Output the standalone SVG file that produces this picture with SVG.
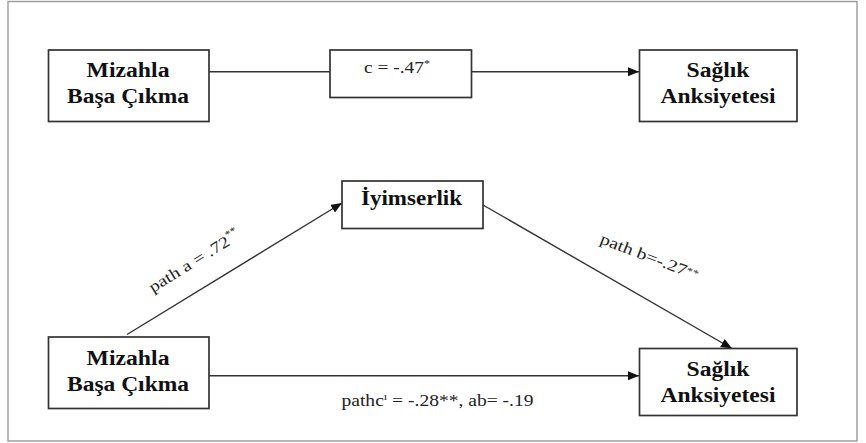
<svg xmlns="http://www.w3.org/2000/svg" width="866" height="443" viewBox="0 0 866 443">
  <style>
    .frame { fill: none; stroke: #9a9a9a; stroke-width: 1.4; }
    .box { fill: #ffffff; stroke: #333333; stroke-width: 1.7; }
    .node { font-family: "Liberation Serif", "Times New Roman", serif; font-weight: bold; font-size: 20px; fill: #111111; text-anchor: middle; }
    .lbl { font-family: "Liberation Serif", "Times New Roman", serif; font-size: 16px; fill: #222222; text-anchor: middle; }
    .edge { fill: none; stroke: #333333; stroke-width: 1.4; }
  </style>
  <defs>
    <marker id="arrow" markerUnits="userSpaceOnUse" markerWidth="12" markerHeight="10" refX="11" refY="4.5" orient="auto">
      <path d="M0,0 L11,4.5 L0,9 z" fill="#111111"/>
    </marker>
  </defs>

  <rect x="0" y="0" width="866" height="443" fill="#ffffff"/>
  <rect class="frame" x="8" y="1.5" width="849" height="439.5"/>

  <!-- connectors -->
  <g id="connectors">
    <line class="edge" x1="209" y1="71.7" x2="330" y2="71.7"/>
    <line class="edge" x1="471.5" y1="71.7" x2="639" y2="71.7" marker-end="url(#arrow)"/>
    <line class="edge" x1="127" y1="334.5" x2="342" y2="203" marker-end="url(#arrow)"/>
    <line class="edge" x1="483" y1="205" x2="732" y2="348.5" marker-end="url(#arrow)"/>
    <line class="edge" x1="209" y1="375.7" x2="639" y2="375.7" marker-end="url(#arrow)"/>

    <text class="lbl" transform="translate(195,262) rotate(-32)" x="0" y="4" textLength="104" lengthAdjust="spacingAndGlyphs">path a = .72<tspan font-size="10" dy="-7">**</tspan></text>
    <text class="lbl" transform="translate(649,258) rotate(21)" x="0" y="4" textLength="104" lengthAdjust="spacingAndGlyphs">path b=-.27<tspan font-size="10" dy="-3">**</tspan></text>
    <text class="lbl" x="437.5" y="405.5" textLength="192" lengthAdjust="spacingAndGlyphs">pathc<tspan font-size="10" dy="-6">ı</tspan><tspan dy="6"> = -.28**, ab= -.19</tspan></text>
  </g>

  <g id="node-mizahla-top">
    <rect class="box" x="48.5" y="50" width="160.5" height="71.5"/>
    <text class="node" x="128" y="76.5" textLength="83" lengthAdjust="spacingAndGlyphs">Mizahla</text>
    <text class="node" x="128" y="103" textLength="122" lengthAdjust="spacingAndGlyphs">Başa Çıkma</text>
  </g>

  <g id="node-c">
    <rect class="box" x="330" y="50" width="141.5" height="47.5"/>
    <text class="lbl" x="397" y="72.5" textLength="66" lengthAdjust="spacingAndGlyphs">c = -.47<tspan font-size="10" dy="-6">*</tspan></text>
  </g>

  <g id="node-saglik-top">
    <rect class="box" x="639.5" y="50" width="157.5" height="71.5"/>
    <text class="node" x="718" y="76.5" textLength="63" lengthAdjust="spacingAndGlyphs">Sağlık</text>
    <text class="node" x="718" y="103" textLength="115" lengthAdjust="spacingAndGlyphs">Anksiyetesi</text>
  </g>

  <g id="node-iyimserlik">
    <rect class="box" x="342" y="181" width="141" height="47.5"/>
    <text class="node" x="411.5" y="204.5" textLength="101" lengthAdjust="spacingAndGlyphs">İyimserlik</text>
  </g>

  <g id="node-mizahla-bottom">
    <rect class="box" x="48.5" y="337" width="160.5" height="71.5"/>
    <text class="node" x="128" y="365" textLength="83" lengthAdjust="spacingAndGlyphs">Mizahla</text>
    <text class="node" x="128" y="391" textLength="122" lengthAdjust="spacingAndGlyphs">Başa Çıkma</text>
  </g>

  <g id="node-saglik-bottom">
    <rect class="box" x="639.5" y="348.5" width="157.5" height="67"/>
    <text class="node" x="718" y="375.5" textLength="63" lengthAdjust="spacingAndGlyphs">Sağlık</text>
    <text class="node" x="718" y="401.5" textLength="115" lengthAdjust="spacingAndGlyphs">Anksiyetesi</text>
  </g>
</svg>
